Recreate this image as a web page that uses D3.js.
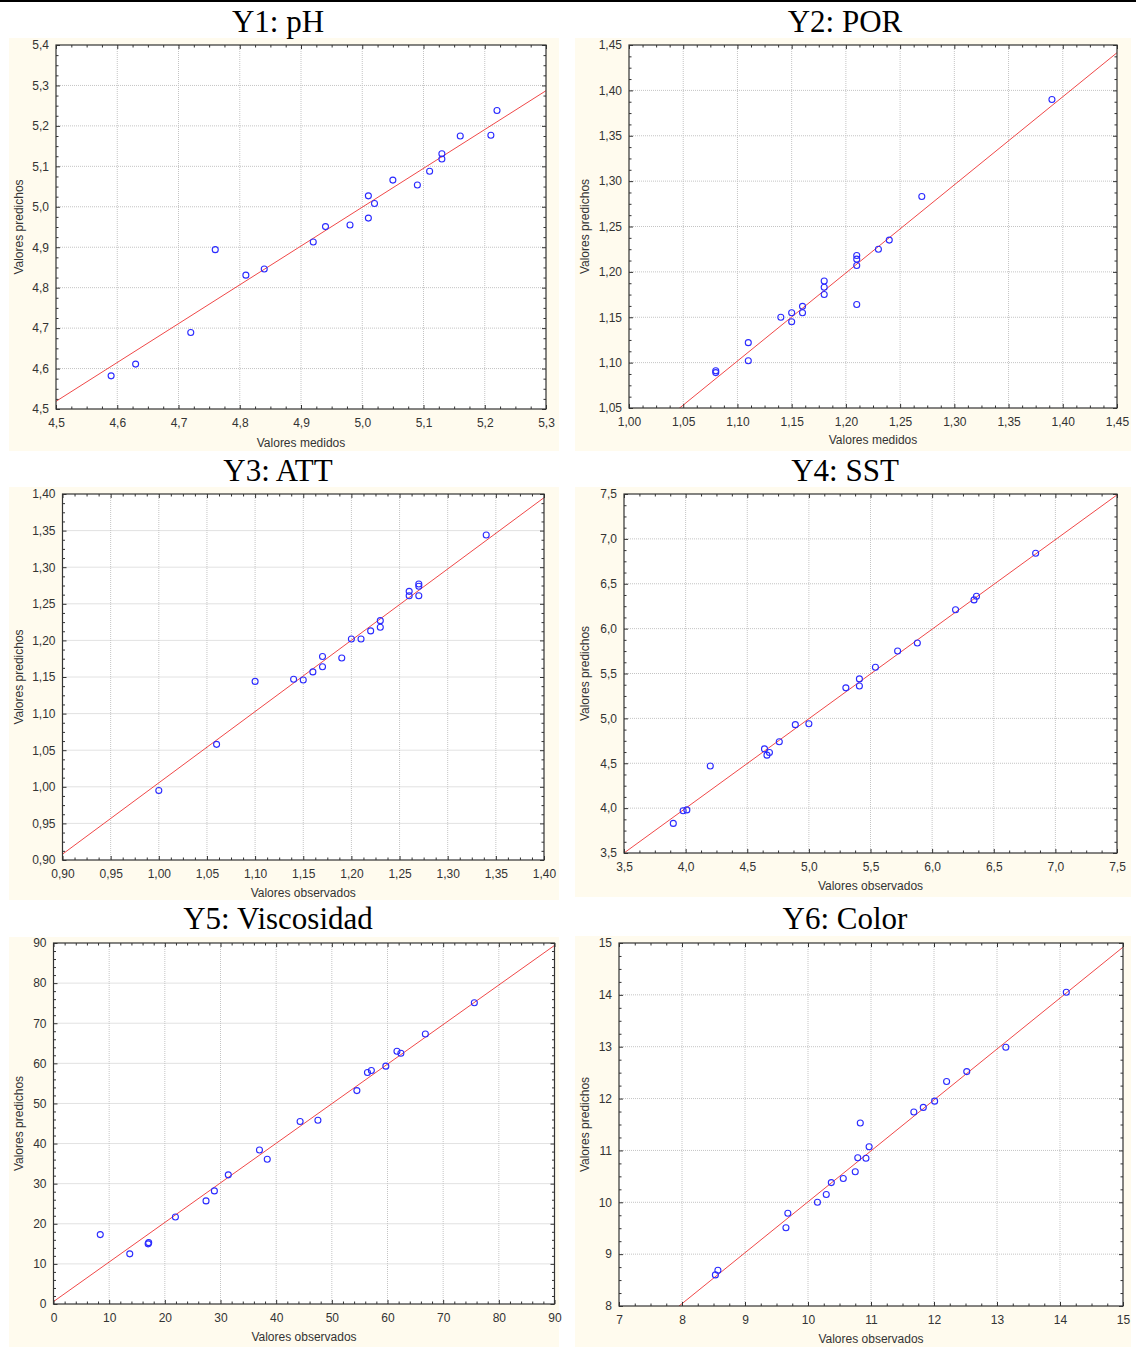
<!DOCTYPE html>
<html>
<head>
<meta charset="utf-8">
<script src="https://cdn.jsdelivr.net/npm/d3@7"></script>
<style>
  body { margin: 0; background: #fff; }
  svg { display: block; }
</style>
</head>
<body>
<svg id="chart" width="1136" height="1349"></svg>
<script>
var y1Obs  = [5.22, 5.21, 5.16, 5.13, 5.13, 5.11, 5.09, 5.05, 5.01, 5.02, 5.01, 4.98, 4.94, 4.92, 4.76, 4.81, 4.84, 4.72, 4.63, 4.59];
var y1Pred = [5.238, 5.177, 5.175, 5.131, 5.118, 5.088, 5.054, 5.066, 5.027, 5.008, 4.972, 4.955, 4.951, 4.913, 4.894, 4.831, 4.846, 4.689, 4.611, 4.582];
var y1XTicks = [4.5, 4.6, 4.7, 4.8, 4.9, 5.0, 5.1, 5.2, 5.3];
var y1YTicks = [4.5, 4.6, 4.7, 4.8, 4.9, 5.0, 5.1, 5.2, 5.3, 5.4];
var y1Fit = [[4.5, 4.519], [5.3, 5.287]];

var y2Obs  = [1.39, 1.27, 1.24, 1.23, 1.21, 1.21, 1.21, 1.21, 1.18, 1.18, 1.18, 1.16, 1.16, 1.15, 1.15, 1.14, 1.11, 1.11, 1.08, 1.08];
var y2Pred = [1.390, 1.283, 1.235, 1.225, 1.218, 1.214, 1.207, 1.164, 1.190, 1.183, 1.175, 1.162, 1.155, 1.155, 1.145, 1.150, 1.122, 1.102, 1.091, 1.089];
var y2XTicks = [1.00, 1.05, 1.10, 1.15, 1.20, 1.25, 1.30, 1.35, 1.40, 1.45];
var y2YTicks = [1.05, 1.10, 1.15, 1.20, 1.25, 1.30, 1.35, 1.40, 1.45];
var y2Fit = [[1.00, 1.0047], [1.45, 1.4415]];

var y3Obs  = [1.34, 1.27, 1.27, 1.27, 1.26, 1.26, 1.23, 1.23, 1.22, 1.21, 1.20, 1.19, 1.17, 1.17, 1.16, 1.15, 1.14, 1.10, 1.06, 1.00];
var y3Pred = [1.344, 1.277, 1.274, 1.261, 1.267, 1.261, 1.227, 1.218, 1.213, 1.202, 1.202, 1.176, 1.178, 1.164, 1.157, 1.146, 1.147, 1.144, 1.058, 0.995];
var y3XTicks = [0.90, 0.95, 1.00, 1.05, 1.10, 1.15, 1.20, 1.25, 1.30, 1.35, 1.40];
var y3YTicks = [0.90, 0.95, 1.00, 1.05, 1.10, 1.15, 1.20, 1.25, 1.30, 1.35, 1.40];
var y3Fit = [[0.90, 0.908], [1.40, 1.395]];

var y4Obs  = [6.84, 6.36, 6.34, 6.19, 5.88, 5.72, 5.54, 5.41, 5.41, 5.30, 5.00, 4.89, 4.76, 4.64, 4.68, 4.66, 4.20, 4.01, 3.98, 3.90];
var y4Pred = [6.84, 6.36, 6.32, 6.21, 5.84, 5.75, 5.57, 5.44, 5.36, 5.34, 4.94, 4.93, 4.74, 4.66, 4.62, 4.59, 4.47, 3.98, 3.97, 3.83];
var y4XTicks = [3.5, 4.0, 4.5, 5.0, 5.5, 6.0, 6.5, 7.0, 7.5];
var y4YTicks = [3.5, 4.0, 4.5, 5.0, 5.5, 6.0, 6.5, 7.0, 7.5];
var y4Fit = [[3.5, 3.5], [7.5, 7.49]];

var y5Obs  = [75.6, 66.8, 61.7, 62.4, 59.7, 56.4, 57.1, 54.5, 44.3, 47.5, 37.0, 38.4, 31.4, 28.9, 27.4, 21.9, 17.1, 17.0, 13.7, 8.4];
var y5Pred = [75.1, 67.3, 63.0, 62.5, 59.3, 57.7, 58.2, 53.2, 45.5, 45.8, 38.4, 36.1, 32.2, 28.2, 25.7, 21.7, 15.3, 15.0, 12.5, 17.3];
var y5XTicks = [0, 10, 20, 30, 40, 50, 60, 70, 80, 90];
var y5YTicks = [0, 10, 20, 30, 40, 50, 60, 70, 80, 90];
var y5Fit = [[0, 0.6], [90, 89.4]];

var y6Obs  = [14.10, 13.14, 12.52, 12.20, 12.01, 11.83, 11.68, 10.83, 10.97, 10.79, 10.92, 10.75, 10.56, 10.37, 10.29, 10.15, 9.68, 9.65, 8.57, 8.53];
var y6Pred = [14.05, 12.99, 12.52, 12.33, 11.95, 11.83, 11.74, 11.53, 11.07, 10.86, 10.85, 10.59, 10.46, 10.38, 10.15, 10.00, 9.79, 9.51, 8.69, 8.60];
var y6XTicks = [7, 8, 9, 10, 11, 12, 13, 14, 15];
var y6YTicks = [8, 9, 10, 11, 12, 13, 14, 15];
var y6Fit = [[7, 7.063], [15, 14.92]];

var titles  = ["Y1: pH", "Y2: POR", "Y3: ATT", "Y4: SST", "Y5: Viscosidad", "Y6: Color"];
var xTitles = ["Valores medidos", "Valores medidos", "Valores observados", "Valores observados", "Valores observados", "Valores observados"];
var yTitle  = "Valores predichos";

var panels = [
  {obs: y1Obs, pred: y1Pred, xt: y1XTicks, yt: y1YTicks, fit: y1Fit, fmt: ".1f", sub: 4},
  {obs: y2Obs, pred: y2Pred, xt: y2XTicks, yt: y2YTicks, fit: y2Fit, fmt: ".2f", sub: 4},
  {obs: y3Obs, pred: y3Pred, xt: y3XTicks, yt: y3YTicks, fit: y3Fit, fmt: ".2f", sub: 4},
  {obs: y4Obs, pred: y4Pred, xt: y4XTicks, yt: y4YTicks, fit: y4Fit, fmt: ".1f", sub: 4},
  {obs: y5Obs, pred: y5Pred, xt: y5XTicks, yt: y5YTicks, fit: y5Fit, fmt: "d",   sub: 5},
  {obs: y6Obs, pred: y6Pred, xt: y6XTicks, yt: y6YTicks, fit: y6Fit, fmt: "d",   sub: 4}
];

// where each panel sits on the page
var layout = [
  {bx: 9,   by: 38,  bw: 550, bh: 413, l: 56,   r: 546,   t: 45,  b: 409,  tx: 278, ty: 32,  xlab: 447,  ytx: 19},
  {bx: 575, by: 38,  bw: 556, bh: 413, l: 629,  r: 1117,  t: 45,  b: 408,  tx: 845, ty: 32,  xlab: 444,  ytx: 585},
  {bx: 9,   by: 487, bw: 550, bh: 413, l: 62.5, r: 544,   t: 494, b: 860,  tx: 278, ty: 481, xlab: 897,  ytx: 19},
  {bx: 575, by: 487, bw: 556, bh: 410, l: 624,  r: 1117,  t: 494, b: 853,  tx: 845, ty: 481, xlab: 890,  ytx: 585},
  {bx: 9,   by: 937, bw: 550, bh: 410, l: 53.5, r: 554.5, t: 943, b: 1304, tx: 278, ty: 929, xlab: 1341, ytx: 19},
  {bx: 575, by: 936, bw: 556, bh: 411, l: 619,  r: 1123,  t: 943, b: 1306, tx: 845, ty: 929, xlab: 1343, ytx: 585}
];

var loc = d3.formatLocale({decimal: ",", thousands: ".", grouping: [3], currency: ["", ""]});
var sans = "'Liberation Sans', Arial, sans-serif";

var svg = d3.select("#chart");

// thick rule across the top
svg.append("rect").attr("x", 0).attr("y", 0).attr("width", 1136).attr("height", 2).attr("fill", "#000");

function minors(ticks, sub) {
  var out = [];
  for (var k = 0; k < ticks.length - 1; k++) {
    var st = (ticks[k + 1] - ticks[k]) / sub;
    for (var j = 1; j < sub; j++) out.push(ticks[k] + j * st);
  }
  return out;
}

function styleAxis(g) {
  g.select(".domain").remove();
  g.selectAll(".tick line").attr("stroke", "#333").attr("stroke-width", 1);
  g.selectAll("text").attr("font-family", sans).attr("font-size", 12).attr("fill", "#333");
}

panels.forEach(function(p, i) {
  var L = layout[i];
  var g = svg.append("g");

  var x = d3.scaleLinear().domain([p.xt[0], p.xt[p.xt.length - 1]]).range([L.l, L.r]);
  var y = d3.scaleLinear().domain([p.yt[0], p.yt[p.yt.length - 1]]).range([L.b, L.t]);
  var f = loc.format(p.fmt);

  g.append("rect")
    .attr("x", L.bx).attr("y", L.by).attr("width", L.bw).attr("height", L.bh)
    .attr("fill", "#fffbee");

  svg.append("text")
    .attr("x", L.tx).attr("y", L.ty)
    .attr("text-anchor", "middle")
    .attr("font-family", "'Liberation Serif', 'Times New Roman', serif")
    .attr("font-size", 31)
    .attr("fill", "#000")
    .text(titles[i]);

  g.append("rect")
    .attr("x", L.l).attr("y", L.t).attr("width", L.r - L.l).attr("height", L.b - L.t)
    .attr("fill", "#fff");

  // dotted grid
  g.append("g").selectAll("line").data(p.xt.slice(1, -1)).enter().append("line")
    .attr("x1", function(d) { return x(d); }).attr("x2", function(d) { return x(d); })
    .attr("y1", L.t).attr("y2", L.b)
    .attr("stroke", "#c4c4c4").attr("stroke-dasharray", "1,1");
  g.append("g").selectAll("line").data(p.yt.slice(1, -1)).enter().append("line")
    .attr("y1", function(d) { return y(d); }).attr("y2", function(d) { return y(d); })
    .attr("x1", L.l).attr("x2", L.r)
    .attr("stroke", "#c4c4c4").attr("stroke-dasharray", "1,1");

  var clipId = "clip" + i;
  svg.append("clipPath").attr("id", clipId).append("rect")
    .attr("x", L.l).attr("y", L.t).attr("width", L.r - L.l).attr("height", L.b - L.t);

  g.append("path")
    .datum(p.fit)
    .attr("clip-path", "url(#" + clipId + ")")
    .attr("d", d3.line().x(function(d) { return x(d[0]); }).y(function(d) { return y(d[1]); }))
    .attr("fill", "none").attr("stroke", "#f04848").attr("stroke-width", 1);

  g.append("g").selectAll("circle").data(p.obs).enter().append("circle")
    .attr("cx", function(d) { return x(d); })
    .attr("cy", function(d, k) { return y(p.pred[k]); })
    .attr("r", 3)
    .attr("fill", "none").attr("stroke", "#2a2aff").attr("stroke-width", 1.1);

  var xm = minors(p.xt, p.sub), ym = minors(p.yt, p.sub);

  // labelled axes (bottom/left), ticks pointing inward
  g.append("g").attr("transform", "translate(0," + L.b + ")")
    .call(d3.axisBottom(x).tickValues(p.xt).tickSizeInner(-4).tickSizeOuter(0).tickPadding(9).tickFormat(f))
    .call(styleAxis);
  g.append("g").attr("transform", "translate(0," + L.b + ")")
    .call(d3.axisBottom(x).tickValues(xm).tickSize(-2.5).tickFormat(""))
    .call(styleAxis);
  g.append("g").attr("transform", "translate(" + L.l + ",0)")
    .call(d3.axisLeft(y).tickValues(p.yt).tickSizeInner(-4).tickSizeOuter(0).tickPadding(7).tickFormat(f))
    .call(styleAxis);
  g.append("g").attr("transform", "translate(" + L.l + ",0)")
    .call(d3.axisLeft(y).tickValues(ym).tickSize(-2.5).tickFormat(""))
    .call(styleAxis);

  // mirror ticks on top/right
  g.append("g").attr("transform", "translate(0," + L.t + ")")
    .call(d3.axisTop(x).tickValues(p.xt).tickSize(-4).tickFormat(""))
    .call(styleAxis);
  g.append("g").attr("transform", "translate(0," + L.t + ")")
    .call(d3.axisTop(x).tickValues(xm).tickSize(-2.5).tickFormat(""))
    .call(styleAxis);
  g.append("g").attr("transform", "translate(" + L.r + ",0)")
    .call(d3.axisRight(y).tickValues(p.yt).tickSize(-4).tickFormat(""))
    .call(styleAxis);
  g.append("g").attr("transform", "translate(" + L.r + ",0)")
    .call(d3.axisRight(y).tickValues(ym).tickSize(-2.5).tickFormat(""))
    .call(styleAxis);

  g.append("rect")
    .attr("x", L.l).attr("y", L.t).attr("width", L.r - L.l).attr("height", L.b - L.t)
    .attr("fill", "none").attr("stroke", "#333").attr("stroke-width", 1.2);

  g.append("text")
    .attr("x", (L.l + L.r) / 2).attr("y", L.xlab)
    .attr("text-anchor", "middle")
    .attr("font-family", sans).attr("font-size", 12).attr("fill", "#333")
    .text(xTitles[i]);

  g.append("text")
    .attr("transform", "translate(" + L.ytx + "," + ((L.t + L.b) / 2) + ") rotate(-90)")
    .attr("dy", "0.35em")
    .attr("text-anchor", "middle")
    .attr("font-family", sans).attr("font-size", 12).attr("fill", "#333")
    .text(yTitle);
});
</script>
</body>
</html>
